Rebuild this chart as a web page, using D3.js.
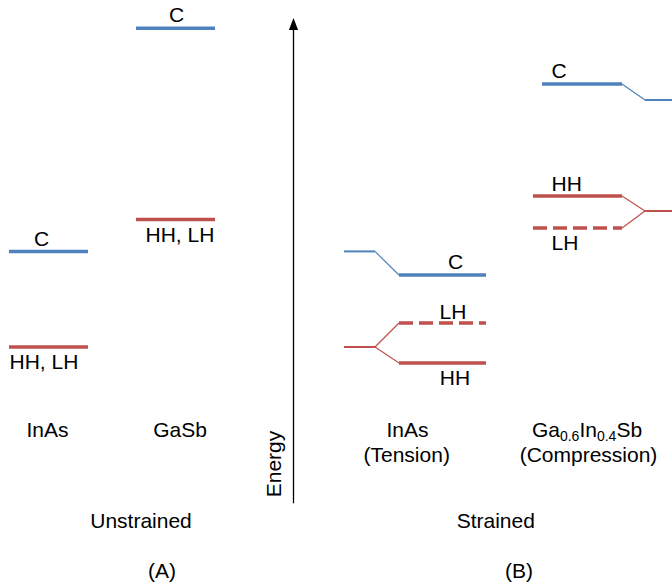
<!DOCTYPE html>
<html>
<head>
<meta charset="utf-8">
<script src="https://cdn.jsdelivr.net/npm/d3@7"></script>
<style>
  html, body { margin: 0; padding: 0; background: #fff; }
  svg { display: block; }
  text { font-family: "Liberation Sans", Arial, sans-serif; font-size: 21px; fill: #000; }
</style>
</head>
<body>
<svg id="chart" width="672" height="586"></svg>
<script>
// Band-edge energies (eV, relative to the unstrained InAs valence band)
const energyExtent = [-0.585, 1.232];

// (A) unstrained bulk materials
const unstrainedNames = ["InAs", "GaSb"];
const unstrainedC = [0.358, 1.194];
const unstrainedV = [0.0, 0.4775];
const unstrainedVLabel = ["HH, LH", "HH, LH"];

// (B) strained layers: reference (unstrained) edges and strain-split edges
const strainedNames = ["InAs", "Ga0.6In0.4Sb"];
const strainedSubtitles = ["(Tension)", "(Compression)"];
const refC = [0.358, 0.925];
const refV = [0.0, 0.509];
const strainedC = [0.2697, 0.985];
const strainedHH = [-0.0599, 0.5655];
const strainedLH = [0.0899, 0.4457];

const panelTitles = ["Unstrained", "Strained"];
const panelTags = ["(A)", "(B)"];
const axisTitle = "Energy";

const blue = "#4F81BD", red = "#C0504D";
const thick = 3.5, medium = 2, thin = 1.2;

const svg = d3.select("#chart");
const y = d3.scaleLinear().domain([0, 1]).range([347, 80]);

// horizontal geometry of each column
const unstrainedX = d3.scaleBand().domain(unstrainedNames).range([9, 215]).paddingInner(48 / 127);
const strainedCols = [
  // InAs: reference on the left, strained levels on the right
  { ref: [344, 375], bend: 399, lvl: [399, 486], cLvl: [399, 486] },
  // GaInSb: strained levels on the left, reference on the right
  { ref: [645, 680], bend: 622, lvl: [533, 622], cLvl: [542, 622] }
];

function hline(x0, x1, e, color, w, dash) {
  const l = svg.append("line")
    .attr("x1", x0).attr("x2", x1)
    .attr("y1", y(e)).attr("y2", y(e))
    .attr("stroke", color).attr("stroke-width", w);
  if (dash) l.attr("stroke-dasharray", dash);
  return l;
}
function seg(x0, e0, x1, e1, color, w) {
  svg.append("line")
    .attr("x1", x0).attr("y1", y(e0)).attr("x2", x1).attr("y2", y(e1))
    .attr("stroke", color).attr("stroke-width", w);
}
function label(x, yy, s, anchor) {
  return svg.append("text").attr("x", x).attr("y", yy)
    .attr("text-anchor", anchor || "middle").text(s);
}

// ---- (A) unstrained ----
const labelOffsetC = [[-7, -5], [1, -6]];
unstrainedNames.forEach((name, i) => {
  const x0 = unstrainedX(name), x1 = x0 + unstrainedX.bandwidth();
  hline(x0, x1, unstrainedC[i], blue, thick);
  hline(x0, x1, unstrainedV[i], red, thick);
  label((x0 + x1) / 2 + labelOffsetC[i][0], y(unstrainedC[i]) + labelOffsetC[i][1], "C");
  label(i === 0 ? x0 + 0.5 : x0 + 9.5, y(unstrainedV[i]) + (i === 0 ? 22 : 22), unstrainedVLabel[i], "start");
  label((x0 + x1) / 2 + (i === 0 ? -1 : 4.5), 437, name);
});
label(141, 527.5, panelTitles[0]);
label(162, 577.5, panelTags[0]);

// ---- energy axis ----
const axisX = 293.5;
svg.append("defs").append("marker")
  .attr("id", "arrow").attr("viewBox", "0 0 10 14")
  .attr("refX", 5).attr("refY", 1)
  .attr("markerWidth", 10).attr("markerHeight", 14)
  .attr("markerUnits", "userSpaceOnUse")
  .attr("orient", "auto-start-reverse")
  .append("path").attr("d", "M0,14 L5,0 L10,14 Z").attr("fill", "#000");
svg.append("line")
  .attr("x1", axisX).attr("x2", axisX)
  .attr("y1", y(energyExtent[0])).attr("y2", y(energyExtent[1]) + 6)
  .attr("stroke", "#000").attr("stroke-width", 1.3);
svg.append("path")
  .attr("d", `M${axisX - 4.6},${y(energyExtent[1]) + 12} L${axisX},${y(energyExtent[1])} L${axisX + 4.6},${y(energyExtent[1]) + 12} Z`)
  .attr("fill", "#000");
svg.append("text")
  .attr("transform", `translate(281,464) rotate(-90)`)
  .attr("text-anchor", "middle").text(axisTitle);

// ---- (B) strained ----
strainedNames.forEach((name, i) => {
  const c = strainedCols[i];
  // reference edges
  hline(c.ref[0], c.ref[1], refC[i], blue, medium);
  hline(c.ref[0], c.ref[1], refV[i], red, medium);
  const refEnd = i === 0 ? c.ref[1] : c.ref[0];
  // connectors
  seg(refEnd, refC[i], c.bend, strainedC[i], blue, thin);
  seg(refEnd, refV[i], c.bend, strainedHH[i], red, thin);
  seg(refEnd, refV[i], c.bend, strainedLH[i], red, thin);
  // strained levels
  hline(c.cLvl[0], c.cLvl[1], strainedC[i], blue, thick);
  hline(c.lvl[0], c.lvl[1], strainedHH[i], red, thick);
  hline(c.lvl[0], c.lvl[1], strainedLH[i], red, thick, "14,6");
});

// level labels
label(455.7, y(strainedC[0]) - 5.5, "C");
label(453, y(strainedLH[0]) - 4, "LH");
label(455, y(strainedHH[0]) + 22.5, "HH");
label(559, y(strainedC[1]) - 6, "C");
label(566.7, y(strainedHH[1]) - 5.2, "HH");
label(565, y(strainedLH[1]) + 22, "LH");

// material names
label(407.5, 437, strainedNames[0]);
label(406.7, 462, strainedSubtitles[0]);
const gi = svg.append("text").attr("x", 587).attr("y", 437).attr("text-anchor", "middle");
const parts = strainedNames[1].match(/^([A-Za-z]+)([\d.]+)([A-Za-z]+)([\d.]+)([A-Za-z]+)$/);
gi.append("tspan").text(parts[1]);
gi.append("tspan").attr("dy", 4).style("font-size", "14px").text(parts[2]);
gi.append("tspan").attr("dy", -4).text(parts[3]);
gi.append("tspan").attr("dy", 4).style("font-size", "14px").text(parts[4]);
gi.append("tspan").attr("dy", -4).text(parts[5]);
label(588.5, 462, strainedSubtitles[1]);

label(495.8, 527.5, panelTitles[1]);
label(519, 577.5, panelTags[1]);
</script>
</body>
</html>
